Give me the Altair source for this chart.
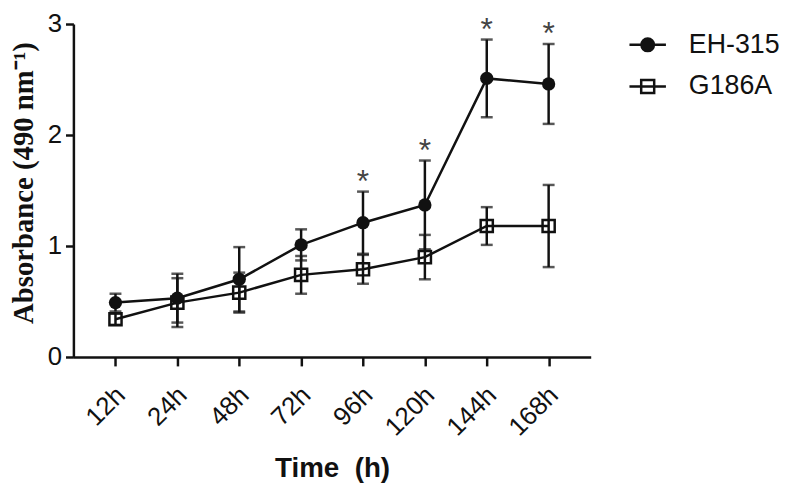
import altair as alt
import pandas as pd

hours = ["12h", "24h", "48h", "72h", "96h", "120h", "144h", "168h"]
series_names = ["EH-315", "G186A"]
eh_mean = [0.49, 0.53, 0.70, 1.01, 1.21, 1.37, 2.51, 2.46]
eh_err = [0.08, 0.22, 0.29, 0.14, 0.28, 0.40, 0.35, 0.36]
g_mean = [0.34, 0.49, 0.58, 0.74, 0.79, 0.90, 1.18, 1.18]
g_err = [0.05, 0.22, 0.18, 0.17, 0.13, 0.20, 0.17, 0.37]
eh_sig = ["", "", "", "", "*", "*", "*", "*"]
g_sig = ["", "", "", "", "", "", "", ""]

rows = []
for name, means, errs, sigs in [("EH-315", eh_mean, eh_err, eh_sig), ("G186A", g_mean, g_err, g_sig)]:
    for h, m, e, s in zip(hours, means, errs, sigs):
        rows.append({"series": name, "hour": h, "mean": m, "lower": m - e, "upper": m + e, "sig": s})
df = pd.DataFrame(rows)

INK = "#111111"
SW = 2.5

x_enc = alt.X("hour:N", sort=hours, title="Time\u00a0 (h)",
              scale=alt.Scale(type="point", padding=0.68),
              axis=alt.Axis(labelAngle=-45, labelAlign="right", labelBaseline="middle",
                            labelFontSize=26, labelPadding=25, labelOffset=5, tickSize=9,
                            titleY=121, titleBaseline="alphabetic",
                            titleFont="Liberation Sans", titleFontSize=28, titleFontWeight="bold"))
y_scale = alt.Scale(domain=[0, 3], nice=False)
y_axis = alt.Axis(values=[0, 1, 2, 3], format="d", tickSize=8, labelPadding=4, labelFontSize=26,
                  title="Absorbance (490 nm\u207b\u00b9)", titleFont="Liberation Serif",
                  titleFontSize=29, titleFontWeight="bold", titleX=-50, titleY=160,
                  titleBaseline="middle", titleAngle=-90)

base = alt.Chart(df).encode(x=x_enc)

lines = base.mark_line(color=INK, strokeWidth=SW).encode(
    y=alt.Y("mean:Q", scale=y_scale, axis=y_axis), detail="series:N")
bars = base.mark_rule(color=INK, strokeWidth=SW).encode(y="lower:Q", y2="upper:Q")
cap_hi = base.mark_tick(color=INK, size=12, thickness=SW, orient="horizontal").encode(y="upper:Q")
cap_lo = base.mark_tick(color=INK, size=12, thickness=SW, orient="horizontal").encode(y="lower:Q")
pts_eh = base.transform_filter(alt.datum.series == "EH-315").mark_point(
    shape="circle", filled=True, size=180, color=INK, opacity=1).encode(y="mean:Q")
pts_g = base.transform_filter(alt.datum.series == "G186A").mark_point(
    shape="square", filled=False, size=150, color=INK, strokeWidth=SW, opacity=1).encode(y="mean:Q")
stars = base.transform_filter(alt.datum.series == "EH-315").mark_text(
    font="Liberation Sans", fontSize=32, color="#444444", baseline="alphabetic", dy=0
).encode(y="upper:Q", text="sig:N")


def ring(r):
    return f"M{-r},0A{r},{r},0,1,0,{r},0A{r},{r},0,1,0,{-r},0Z"


# legend glyphs: a short line with the marker on it (drawn with strokes only)
path_eh = "M-1.6,0H1.6" + "".join(ring(r) for r in (0.55, 0.38, 0.21, 0.06))
path_g = "M-1.6,0H1.6M-0.57,-0.57H0.57V0.57H-0.57Z"
leg = alt.Legend(title=None, orient="none", legendX=566, legendY=7.5, padding=0,
                 labelFont="Liberation Sans", labelFontSize=27, labelColor=INK,
                 labelOffset=28, rowPadding=14, symbolStrokeColor=INK,
                 symbolStrokeWidth=SW, symbolSize=529, symbolOpacity=1)
legend_layer = base.transform_filter("false").mark_point(
    filled=False, size=529, color=INK, strokeWidth=SW, opacity=1).encode(
    y="mean:Q",
    shape=alt.Shape("series:N", scale=alt.Scale(domain=series_names, range=[path_eh, path_g]), legend=leg),
)

chart = alt.layer(lines, bars, cap_hi, cap_lo, pts_g, pts_eh, stars, legend_layer).properties(
    width=522, height=336,
    autosize=alt.AutoSizeParams(type="none"),
    padding={"left": 66, "top": 14, "right": 190, "bottom": 125},
    background="white",
).configure_view(stroke=None).configure_axis(
    grid=False, domainColor=INK, domainWidth=SW, tickColor=INK, tickWidth=SW,
    labelFont="Liberation Sans", labelColor=INK, titleColor=INK,
)

chart.save("out.html", embed_options={"renderer": "svg", "actions": False})
